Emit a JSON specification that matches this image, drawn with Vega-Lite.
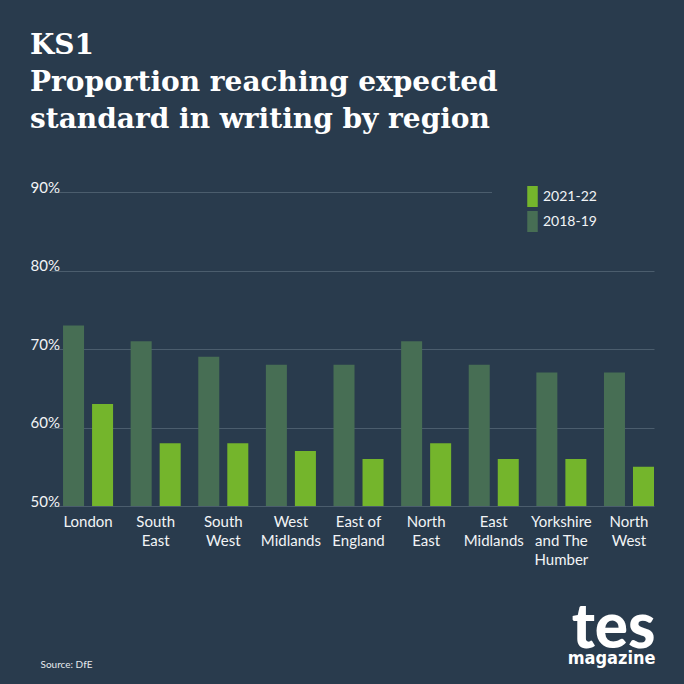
{
  "$schema": "https://vega.github.io/schema/vega-lite/v6.json",
  "width": 603,
  "height": 314,
  "autosize": {"type": "none"},
  "padding": {"left": 51, "top": 192, "right": 30, "bottom": 178},
  "background": "#293b4d",
  "title": {
    "text": ["KS1", "Proportion reaching expected", "standard in writing by region"],
    "anchor": "start",
    "frame": "group",
    "font": "DejaVu Serif",
    "fontSize": 28,
    "fontWeight": "bold",
    "color": "#ffffff",
    "lineHeight": 37,
    "baseline": "bottom",
    "dx": -21,
    "offset": -6
  },
  "config": {
    "view": {"stroke": null},
    "axis": {"labelFont": "Lato", "titleFont": "Lato"}
  },
  "data": {
    "values": [
      {"region": "London", "year": "2018-19", "value": 73},
      {"region": "London", "year": "2021-22", "value": 63},
      {"region": "South|East", "year": "2018-19", "value": 71},
      {"region": "South|East", "year": "2021-22", "value": 58},
      {"region": "South|West", "year": "2018-19", "value": 69},
      {"region": "South|West", "year": "2021-22", "value": 58},
      {"region": "West|Midlands", "year": "2018-19", "value": 68},
      {"region": "West|Midlands", "year": "2021-22", "value": 57},
      {"region": "East of|England", "year": "2018-19", "value": 68},
      {"region": "East of|England", "year": "2021-22", "value": 56},
      {"region": "North|East", "year": "2018-19", "value": 71},
      {"region": "North|East", "year": "2021-22", "value": 58},
      {"region": "East|Midlands", "year": "2018-19", "value": 68},
      {"region": "East|Midlands", "year": "2021-22", "value": 56},
      {"region": "Yorkshire|and The|Humber", "year": "2018-19", "value": 67},
      {"region": "Yorkshire|and The|Humber", "year": "2021-22", "value": 56},
      {"region": "North|West", "year": "2018-19", "value": 67},
      {"region": "North|West", "year": "2021-22", "value": 55}
    ]
  },
  "layer": [
    {
      "mark": {"type": "bar", "clip": true},
      "encoding": {
        "x": {
          "field": "region",
          "type": "nominal",
          "sort": null,
          "scale": {"paddingInner": 0.26, "paddingOuter": 0.089, "align": 1},
          "axis": {
            "domain": false,
            "ticks": false,
            "labelAngle": 0,
            "labelPadding": 8,
            "labelFontSize": 15,
            "labelColor": "#f2f4f6",
            "labelLineHeight": 19,
            "labelBaseline": "top",
            "labelExpr": "split(datum.label, '|')",
            "title": "Source: DfE",
            "titleFontSize": 10,
            "titleFontWeight": "normal",
            "titleColor": "#e6eaee",
            "titleX": -11,
            "titleY": 161,
            "titleAlign": "left",
            "titleBaseline": "alphabetic"
          }
        },
        "xOffset": {
          "field": "year",
          "sort": ["2018-19", "2021-22"],
          "scale": {"paddingInner": 0.276, "paddingOuter": 0}
        },
        "y": {
          "field": "value",
          "type": "quantitative",
          "scale": {"domain": [50, 90], "zero": false, "nice": false},
          "axis": {
            "values": [50, 60, 70, 80, 90],
            "grid": true,
            "gridColor": "#4b5d6d",
            "gridWidth": 1,
            "domain": false,
            "ticks": false,
            "labelAlign": "left",
            "labelPadding": 21,
            "labelBaseline": "alphabetic",
            "labelDy": -3,
            "labelFontSize": 15,
            "labelColor": "#f2f4f6",
            "labelExpr": "datum.value + '%'",
            "title": "tes",
            "titleAngle": 0,
            "titleX": 604,
            "titleY": 455,
            "titleAlign": "right",
            "titleBaseline": "alphabetic",
            "titleFontSize": 62,
            "titleFontWeight": 900,
            "titleColor": "#ffffff"
          }
        },
        "color": {
          "field": "year",
          "type": "nominal",
          "scale": {"domain": ["2021-22", "2018-19"], "range": ["#74b52c", "#476e54"]},
          "legend": {
            "title": null,
            "orient": "none",
            "legendX": 441,
            "legendY": -36,
            "padding": 30,
            "fillColor": "#293b4d",
            "symbolType": "M-0.5,-1H0.5V1H-0.5Z M9,0L9,0",
            "symbolSize": 441,
            "symbolOpacity": 1,
            "symbolStrokeWidth": 0,
            "rowPadding": 4,
            "labelOffset": 0,
            "labelFont": "Lato",
            "labelFontSize": 14,
            "labelColor": "#f2f4f6"
          }
        }
      }
    },
    {
      "mark": {"type": "bar", "opacity": 0, "clip": true},
      "encoding": {
        "x": {"field": "region", "type": "nominal", "sort": null},
        "xOffset": {"field": "year", "sort": ["2018-19", "2021-22"]},
        "y": {
          "field": "value",
          "type": "quantitative",
          "scale": {"domain": [50, 90], "zero": false, "nice": false},
          "axis": {
            "orient": "right",
            "labels": false,
            "ticks": false,
            "domain": false,
            "grid": false,
            "title": "magazine",
            "titleAngle": 0,
            "titleX": 1,
            "titleY": 471,
            "titleAlign": "right",
            "titleBaseline": "alphabetic",
            "titleFont": "DejaVu Sans Condensed",
            "titleFontSize": 18,
            "titleFontWeight": "bold",
            "titleColor": "#ffffff"
          }
        }
      }
    }
  ],
  "resolve": {"scale": {"y": "independent"}}
}
